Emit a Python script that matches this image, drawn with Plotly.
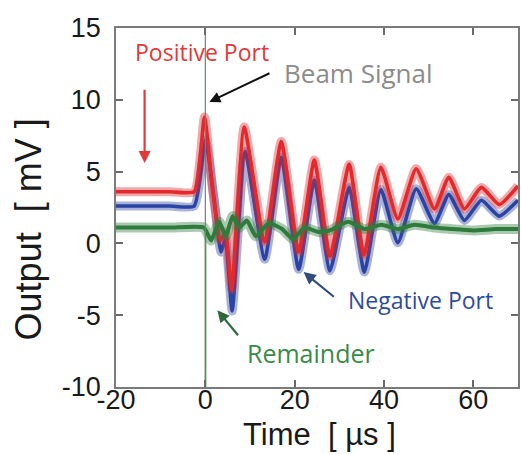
import plotly.graph_objects as go

# Positive port pickup (mV) versus time (µs)
pos_t = [-20, -8, -2.5, -0.2, 1.6, 3.4, 4.5, 5.9, 8.7, 13.3, 17.0, 20.9, 24.4, 27.9,
         32.2, 35.5, 39.3, 43.1, 47.2, 51.3, 54.5, 58.0, 61.8, 65.8, 70]
pos_v = [3.6, 3.6, 3.6, 8.8, 3.8, 0.2, 0.8, -3.2, 8.1, 0.1, 7.1, -0.6, 5.8, -0.9,
         5.5, -0.8, 5.3, 1.7, 5.2, 2.4, 4.6, 2.4, 3.9, 2.7, 4.0]

# Negative port pickup
neg_t = [-20, -8, -2.5, 0.0, 2.0, 3.5, 4.5, 6.0, 8.9, 13.3, 17.0, 20.9, 24.4, 27.9,
         32.2, 35.6, 39.3, 43.1, 47.2, 51.3, 54.5, 58.0, 61.8, 65.8, 70]
neg_v = [2.6, 2.6, 2.6, 7.2, 3.0, -0.6, 0.3, -4.7, 6.4, -1.1, 6.0, -1.8, 4.4, -1.9,
         3.9, -2.0, 3.75, 0.05, 3.8, 1.4, 3.4, 1.6, 3.0, 1.9, 3.0]

# Remainder (difference signal)
rem_t = [-20, -8, -0.3, 1.3, 3.1, 4.6, 6.1, 7.6, 9.3, 11.3, 14.2, 17.2, 19.6,
         22.2, 25.3, 27.8, 32.0, 35.7, 39.4, 43.1, 46.8, 51.3, 55, 60, 65, 70]
rem_v = [1.1, 1.1, 1.1, 0.2, 1.5, 0.5, 1.9, 1.1, 1.6, 0.5, 1.4, 1.0, 0.3,
         1.1, 0.8, 0.9, 1.5, 1.0, 1.3, 1.0, 1.3, 1.1, 1.0, 0.9, 1.0, 1.0]
rem_spike_t = [0.05, 0.05]
rem_spike_v = [0.8, -10]

# Beam trigger marker
beam_t = [0, 0]
beam_v = [15, -10]

x_ticks = [-20, 0, 20, 40, 60]
x_labels = ["-20", "0", "20", "40", "60"]
y_ticks = [-10, -5, 0, 5, 10, 15]
y_labels = ["-10", "-5", "0", "5", "10", "15"]

RED = "#e3292b"
BLUE = "#2b43a3"
GREEN = "#2e7b3c"

fig = go.Figure()


def add_trace(t, v, color, core=3.6, halo=9):
    shape = dict(shape="spline", smoothing=0.5)
    fig.add_trace(go.Scatter(x=t, y=v, mode="lines",
                             line=dict(color=color, width=halo, **shape),
                             opacity=0.4, hoverinfo="skip"))
    fig.add_trace(go.Scatter(x=t, y=v, mode="lines",
                             line=dict(color=color, width=core, **shape)))


add_trace(neg_t, neg_v, BLUE)
add_trace(pos_t, pos_v, RED)
add_trace(rem_t, rem_v, GREEN, core=4, halo=10)
fig.add_trace(go.Scatter(x=rem_spike_t, y=rem_spike_v, mode="lines",
                         line=dict(color=GREEN, width=1.5)))
fig.add_trace(go.Scatter(x=beam_t, y=beam_v, mode="lines",
                         line=dict(color="#6f8478", width=1.2)))

label_font = "Open Sans"
axis_font = "Liberation Sans"
annotations = [
    dict(x=-0.7, y=13.3, text="Positive Port", showarrow=False,
         font=dict(family=label_font, size=23, color="#e03a3a")),
    dict(x=34.4, y=11.9, text="Beam Signal", showarrow=False,
         font=dict(family=label_font, size=26, color="#8c8c8c")),
    dict(x=48.1, y=-3.95, text="Negative Port", showarrow=False,
         font=dict(family=label_font, size=23, color="#2f4c9c")),
    dict(x=23.6, y=-7.6, text="Remainder", showarrow=False,
         font=dict(family=label_font, size=25, color="#3a8a4a")),
    # arrows
    dict(x=-13.6, y=5.6, ax=-13.6, ay=10.8, axref="x", ayref="y",
         showarrow=True, arrowhead=2, arrowsize=1.1, arrowwidth=2.2,
         arrowcolor="#e03a3a", text=""),
    dict(x=0.9, y=9.85, ax=14.7, ay=11.9, axref="x", ayref="y",
         showarrow=True, arrowhead=2, arrowsize=1.1, arrowwidth=2,
         arrowcolor="#111111", text=""),
    dict(x=22.0, y=-2.0, ax=29.1, ay=-3.8, axref="x", ayref="y",
         showarrow=True, arrowhead=2, arrowsize=1.1, arrowwidth=2.2,
         arrowcolor="#2f4c7c", text=""),
    dict(x=2.7, y=-4.65, ax=7.6, ay=-6.5, axref="x", ayref="y",
         showarrow=True, arrowhead=2, arrowsize=1.1, arrowwidth=2.2,
         arrowcolor="#2f6a3f", text=""),
    # axis titles
    dict(xref="paper", yref="paper", x=0.505, y=-0.131,
         xanchor="center", yanchor="middle", showarrow=False,
         text="Time  [ µs ]",
         font=dict(family=axis_font, size=31, color="#1a1a1a")),
    dict(xref="paper", yref="paper", x=-0.218, y=0.44,
         xanchor="center", yanchor="middle", showarrow=False,
         textangle=-90, text="Output  [ mV ]",
         font=dict(family=axis_font, size=36, color="#1a1a1a")),
]

axis_common = dict(
    showline=True, linecolor="#7a7a7a", linewidth=1.5, mirror="ticks",
    ticks="inside", ticklen=7, tickwidth=1.5, tickcolor="#6a6a6a",
    showgrid=False, zeroline=False,
    tickfont=dict(family=axis_font, size=27, color="#1a1a1a"),
)

fig.update_layout(
    width=521, height=454,
    margin=dict(l=116, r=1, t=28, b=67),
    paper_bgcolor="white", plot_bgcolor="white",
    showlegend=False,
    annotations=annotations,
    xaxis=dict(range=[-20, 70], tickvals=x_ticks, ticktext=x_labels,
               ticklabelstandoff=-12, **axis_common),
    yaxis=dict(range=[-10, 15], tickvals=y_ticks, ticktext=y_labels,
               ticklabelstandoff=8, **axis_common),
)

fig.write_html("out.html")
